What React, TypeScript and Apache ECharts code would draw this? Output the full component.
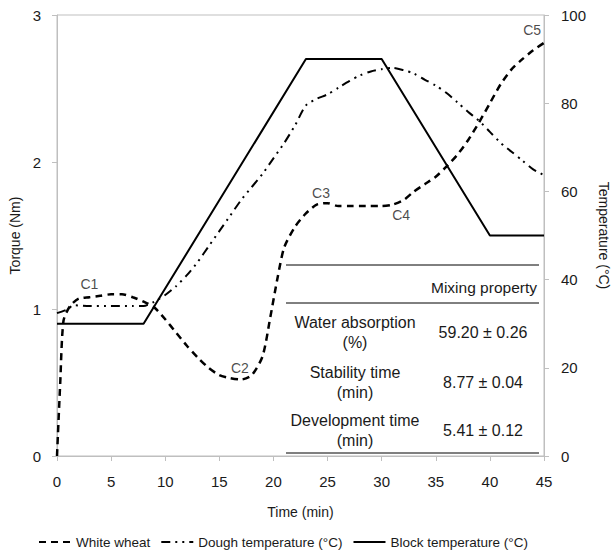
import React, { useEffect, useRef } from "react";
import * as echarts from "echarts";

const wheatTime = [0, 0.3, 0.6, 1.2, 2, 3, 4, 5, 6, 7, 8, 9, 10, 11, 12, 13, 14, 15, 16, 17, 18, 19, 19.7, 20.4, 21, 22, 23, 24, 25, 26, 27, 28, 29, 30, 31, 32, 33, 34, 35, 36, 37, 38, 39, 40, 41, 42, 43, 44, 45];
const wheatTorque = [0, 0.5, 0.92, 1.02, 1.07, 1.08, 1.09, 1.1, 1.1, 1.08, 1.05, 1.01, 0.93, 0.84, 0.75, 0.67, 0.6, 0.55, 0.53, 0.52, 0.55, 0.68, 0.94, 1.22, 1.42, 1.56, 1.65, 1.71, 1.72, 1.7, 1.7, 1.7, 1.7, 1.7, 1.71, 1.74, 1.8, 1.85, 1.9, 1.97, 2.05, 2.15, 2.27, 2.4, 2.53, 2.63, 2.7, 2.76, 2.81];

const doughTime = [0, 1, 1.5, 3, 5, 7, 8, 9, 10, 11, 12, 13, 14, 15, 16, 17, 18, 19, 20, 21, 22, 23, 24, 25, 26, 27, 28, 29, 30, 31, 32, 33, 34, 35, 36, 37, 38, 39, 40, 41, 42, 43, 44, 45];
const doughTemp = [32.4, 33.3, 34.2, 34, 34, 34, 34, 35, 36.5, 38.5, 41, 44, 47.5, 51, 54.5, 58, 61, 64, 67.5, 71, 75, 79.5, 81, 82, 83.5, 85, 86.3, 87.2, 87.7, 88, 87.5, 86.7, 85.3, 84, 82.3, 80.2, 78, 76, 73.5, 71, 69, 67, 65, 63.7];

const blockTime = [0, 8, 23, 30, 40, 45];
const blockTemp = [30, 30, 90, 90, 50, 50];

const pointNames = ["C1", "C2", "C3", "C4", "C5"];
const pointTime = [3, 16.9, 24.4, 31.8, 43.9];
const pointTorque = [1.17, 0.6, 1.79, 1.64, 2.9];

const xTicks = { min: 0, max: 45, interval: 5 };
const torqueTicks = { min: 0, max: 3, interval: 1 };
const tempTicks = { min: 0, max: 100, interval: 20 };

const tableHeader = "Mixing property";
const tableRows = ["Water absorption\n(%)", "Stability time\n(min)", "Development time\n(min)"];
const tableValues = ["59.20 ± 0.26", "8.77 ± 0.04", "5.41 ± 0.12"];

const FONT = "'Liberation Sans', Arial, sans-serif";
const AXIS_GRAY = "#bfbfbf";
const TEXT = "#1a1a1a";

export default function App() {
  const ref = useRef<HTMLDivElement>(null);
  useEffect(() => {
    if (!ref.current) return;
    const chart = echarts.init(ref.current, undefined, { renderer: "svg" });
    const zip = (a: number[], b: number[]) => a.map((v, i) => [v, b[i]]);
    const rowY = [332, 382, 430];
    const graphic: any[] = [
      { type: "line", shape: { x1: 286, y1: 265, x2: 539, y2: 265 }, style: { stroke: "#000", lineWidth: 1 } },
      { type: "line", shape: { x1: 286, y1: 303, x2: 539, y2: 303 }, style: { stroke: "#000", lineWidth: 1 } },
      { type: "line", shape: { x1: 286, y1: 453, x2: 539, y2: 453 }, style: { stroke: "#000", lineWidth: 1 } },
      { type: "text", x: 484, y: 287, style: { text: tableHeader, font: `15.5px ${FONT}`, fill: TEXT, align: "center", verticalAlign: "middle" } },
    ];
    tableRows.forEach((r, i) => {
      graphic.push({ type: "text", x: 355, y: rowY[i], style: { text: r, font: `16px ${FONT}`, fill: TEXT, align: "center", verticalAlign: "middle", lineHeight: 20 } });
      graphic.push({ type: "text", x: 483, y: rowY[i], style: { text: tableValues[i], font: `16px ${FONT}`, fill: TEXT, align: "center", verticalAlign: "middle" } });
    });

    chart.setOption({
      animation: false,
      textStyle: { fontFamily: FONT },
      grid: { left: 57, right: 68, top: 15, bottom: 98, show: true, borderColor: AXIS_GRAY, borderWidth: 1, outerBoundsMode: "none", containLabel: false },
      legend: {
        data: ["White wheat", "Dough temperature (°C)", "Block temperature (°C)"],
        top: 530,
        left: 33,
        itemWidth: 32,
        itemHeight: 12,
        itemGap: 10,
        itemStyle: { opacity: 0 },
        textStyle: { fontSize: 13.5, color: TEXT, fontFamily: FONT },
      },
      xAxis: {
        type: "value",
        ...xTicks,
        name: "Time (min)",
        nameLocation: "middle",
        nameGap: 49,
        nameTextStyle: { fontSize: 14, color: TEXT },
        axisLine: { show: true, lineStyle: { color: AXIS_GRAY } },
        axisTick: { show: true, length: 5, lineStyle: { color: AXIS_GRAY } },
        axisLabel: { fontSize: 15, color: TEXT, margin: 18 },
        splitLine: { show: false },
      },
      yAxis: [
        {
          type: "value",
          ...torqueTicks,
          name: "Torque (Nm)",
          nameLocation: "middle",
          nameGap: 35,
          nameTextStyle: { fontSize: 14, color: TEXT },
          axisLine: { show: true, lineStyle: { color: AXIS_GRAY } },
          axisTick: { show: true, length: 5, lineStyle: { color: AXIS_GRAY } },
          axisLabel: { fontSize: 15, color: TEXT, margin: 16 },
          splitLine: { show: false },
        },
        {
          type: "value",
          ...tempTicks,
          position: "right",
          name: "Temperature (°C)",
          nameLocation: "middle",
          nameRotate: -90,
          nameGap: 47,
          nameTextStyle: { fontSize: 14, color: TEXT },
          axisLine: { show: true, lineStyle: { color: AXIS_GRAY } },
          axisTick: { show: true, length: 5, lineStyle: { color: AXIS_GRAY } },
          axisLabel: { fontSize: 15, color: TEXT, margin: 17 },
          splitLine: { show: false },
        },
      ],
      series: [
        {
          name: "White wheat",
          type: "line",
          data: zip(wheatTime, wheatTorque),
          smooth: 0.25,
          symbol: "none",
          lineStyle: { color: "#000", width: 2.5, type: [7, 5] },
          itemStyle: { color: "#000" },
          z: 3,
        },
        {
          name: "Dough temperature (°C)",
          type: "line",
          yAxisIndex: 1,
          data: zip(doughTime, doughTemp),
          smooth: 0.25,
          symbol: "none",
          lineStyle: { color: "#000", width: 2, type: [9, 5, 2, 5, 2, 5] },
          itemStyle: { color: "#000" },
          z: 2,
        },
        {
          name: "Block temperature (°C)",
          type: "line",
          yAxisIndex: 1,
          data: zip(blockTime, blockTemp),
          symbol: "none",
          lineStyle: { color: "#000", width: 2 },
          itemStyle: { color: "#000" },
          z: 2,
        },
        {
          name: "labels",
          type: "scatter",
          data: pointTime.map((t, i) => ({ value: [t, pointTorque[i]], name: pointNames[i] })),
          symbolSize: 0,
          silent: true,
          label: { show: true, position: "inside", formatter: "{b}", fontSize: 14, color: TEXT, fontFamily: FONT },
          z: 5,
        },
      ],
      graphic,
    });
    return () => chart.dispose();
  }, []);
  return <div ref={ref} style={{ width: 612, height: 554, position: "fixed", left: 0, top: 0, background: "#fff" }} />;
}
